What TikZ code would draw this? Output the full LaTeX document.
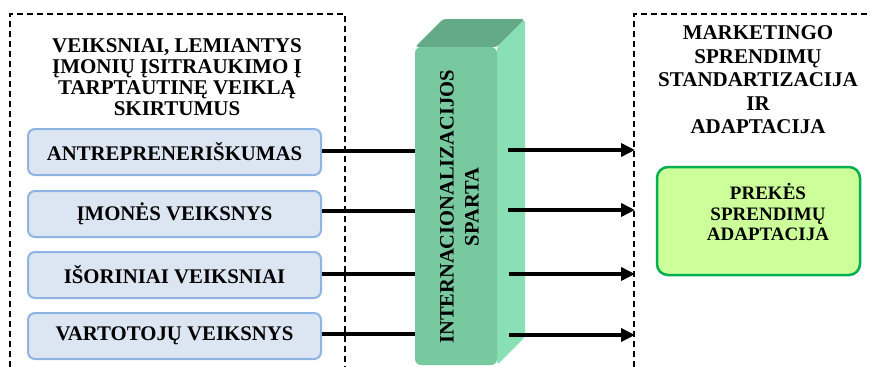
\documentclass[tikz,border=0pt]{standalone}
\usepackage{fontspec}
\setmainfont{Liberation Serif}
\usetikzlibrary{arrows.meta}
\definecolor{boxfill}{HTML}{DCE6F2}
\definecolor{boxline}{HTML}{8DB4E2}
\definecolor{frontg}{HTML}{78C8A0}
\definecolor{topg}{HTML}{64AA88}
\definecolor{sideg}{HTML}{8AE0B5}
\definecolor{gfill}{HTML}{CCFF99}
\definecolor{gline}{HTML}{00B050}
\tikzset{
  dashbox/.style={line width=1.3pt, dash pattern=on 6pt off 4pt},
  hdr/.style={inner sep=0pt, align=center, font=\bfseries\fontsize{21}{21}\selectfont},
  factor/.style={draw=boxline, fill=boxfill, line width=2pt, rounded corners=7pt,
     minimum width=293pt, minimum height=46pt, inner sep=0pt,
     font=\bfseries\fontsize{20.8}{22}\selectfont},
  conn/.style={line width=4pt},
  outarr/.style={line width=3.5pt, -{Triangle[length=14pt,width=13pt]}}
}
\begin{document}
\begin{tikzpicture}[x=1pt,y=-1pt]
\useasboundingbox (0,0) rectangle (871,367);
% dashed frames
\draw[dashbox] (10,367) -- (10,14) -- (345,14) -- (345,367);
\draw[dashbox] (634,367) -- (634,14) -- (871,14);
% left header
\node[hdr] (lh) at (177,77) {VEIKSNIAI, LEMIANTYS\\ĮMONIŲ ĮSITRAUKIMO Į\\TARPTAUTINĘ VEIKLĄ\\SKIRTUMUS};
% factor boxes
\node[factor] (f1) at (174.5,152) {ANTREPRENERIŠKUMAS};
\node[factor] (f2) at (174.5,214) {ĮMONĖS VEIKSNYS};
\node[factor] (f3) at (174.5,275) {IŠORINIAI VEIKSNIAI};
\node[factor] (f4) at (174.5,336) {VARTOTOJŲ VEIKSNYS};
% 3D block
\fill[topg, rounded corners=3pt] (415,47) -- (443,19) -- (525,19) -- (497,47) -- cycle;
\fill[sideg, rounded corners=3pt] (497,47) -- (525,19) -- (525,337) -- (497,365) -- cycle;
\node[fill=frontg, rounded corners=6pt, minimum width=82pt, minimum height=318pt, inner sep=0pt] (sp) at (456,206) {};
\node[hdr, rotate=90, font=\bfseries\fontsize{20.5}{25}\selectfont] (spt) at (459.5,207) {INTERNACIONALIZACIJOS\\SPARTA};
% left connectors
\draw[conn] (f1.east |- 0,151) -- (sp.west |- 0,151);
\draw[conn] (f2.east |- 0,211) -- (sp.west |- 0,211);
\draw[conn] (f3.east |- 0,274) -- (sp.west |- 0,274);
\draw[conn] (f4.east |- 0,334) -- (sp.west |- 0,334);
% right arrows
\coordinate (o1) at (508,150); \coordinate (e1) at (635,150);
\coordinate (o2) at (508,210); \coordinate (e2) at (635,210);
\coordinate (o3) at (509,274); \coordinate (e3) at (635,274);
\coordinate (o4) at (509,335); \coordinate (e4) at (635,335);
\draw[outarr] (o1) -- (e1);
\draw[outarr] (o2) -- (e2);
\draw[outarr] (o3) -- (e3);
\draw[outarr] (o4) -- (e4);
% right header
\node[hdr, font=\bfseries\fontsize{21}{23.5}\selectfont] (rh) at (758,80) {MARKETINGO\\SPRENDIMŲ\\STANDARTIZACIJA\\IR\\ADAPTACIJA};
% green box
\node[draw=gline, fill=gfill, line width=2.5pt, rounded corners=11pt, minimum width=203pt, minimum height=108pt] (gb) at (758.5,221) {};
\node[hdr, font=\bfseries\fontsize{19}{20.5}\selectfont] (gt) at (768,212) {PREKĖS\\SPRENDIMŲ\\ADAPTACIJA};
\end{tikzpicture}
\end{document}
